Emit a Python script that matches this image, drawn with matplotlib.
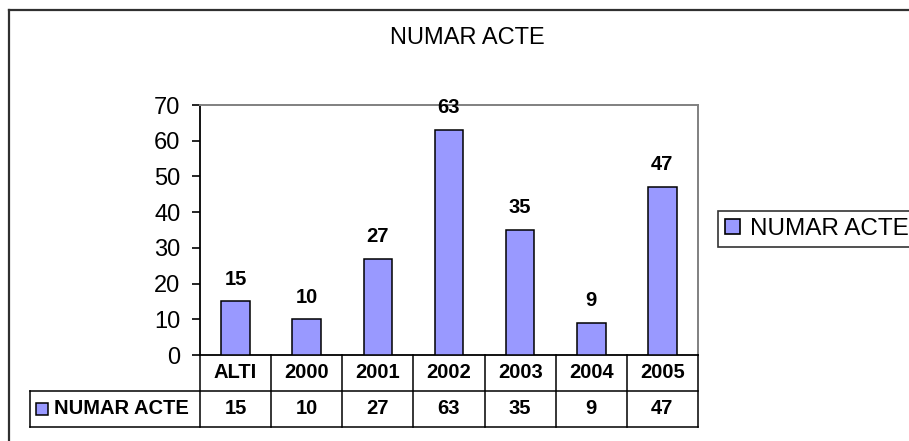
import matplotlib
matplotlib.use("Agg")
import matplotlib.pyplot as plt
from matplotlib.lines import Line2D
from matplotlib.patches import Rectangle

plt.rcParams["font.family"] = ["Liberation Sans", "DejaVu Sans"]

categories = ["ALTI", "2000", "2001", "2002", "2003", "2004", "2005"]
values = [15, 10, 27, 63, 35, 9, 47]
series_name = "NUMAR ACTE"
title = "NUMAR ACTE"
yticks = [0, 10, 20, 30, 40, 50, 60, 70]

BAR = "#9999ff"
W, H = 909, 441

fig = plt.figure(figsize=(W / 100, H / 100), dpi=100)


def fx(px):
    return px / W


def fy(py):
    return 1 - py / H


# outer chart frame (right/bottom edges fall outside the picture)
frame = dict(color="#303030", lw=1.6, transform=fig.transFigure)
fig.add_artist(Line2D([fx(9), fx(9)], [fy(10), 0], **frame))
fig.add_artist(Line2D([fx(9), 1], [fy(10), fy(10)], **frame))

fig.text(fx(467), fy(38), title, ha="center", va="center", fontsize=17)

# plot area
ax = fig.add_axes([fx(200), fy(355), fx(698) - fx(200), fy(105) - fy(355)])
x = list(range(len(categories)))
ax.bar(x, values, width=0.40, color=BAR, edgecolor="black", linewidth=1.1, zorder=3)
for xi, v in zip(x, values):
    ax.annotate(str(v), (xi, v), xytext=(0, 16), textcoords="offset points",
                ha="center", va="center", fontsize=14.5, fontweight="bold")
ax.set_xlim(-0.5, len(categories) - 0.5)
ax.set_ylim(0, 70)
ax.set_yticks(yticks)
ax.tick_params(axis="y", labelsize=17, length=6, width=1.2, pad=8, direction="out")
ax.set_xticks([])
for s in ("top", "right"):
    ax.spines[s].set_color("#808080")
    ax.spines[s].set_linewidth(1.4)
ax.spines["left"].set_linewidth(1.3)
ax.spines["bottom"].set_linewidth(1.3)

leg_handle = Rectangle((0, 0), 1, 1, facecolor=BAR, edgecolor="black", linewidth=1.2)
leg = ax.legend([leg_handle], [series_name], loc="center left",
                bbox_to_anchor=((718 - 200) / 498, (355 - 229) / 250),
                fontsize=17.5, frameon=True, fancybox=False, edgecolor="black",
                handlelength=0.6, handleheight=0.6, handletextpad=0.4,
                borderpad=0.3, borderaxespad=0)
leg.get_frame().set_linewidth(1.2)

# data table under the plot
n = len(categories)
left_ext = 170 / (498 / n)
tx = fig.add_axes([fx(30), fy(427), fx(698) - fx(30), fy(355) - fy(427)])
tx.set_xlim(-0.5 - left_ext, n - 0.5)
tx.set_ylim(0, 2)
tx.axis("off")
lk = dict(color="black", lw=1.1, clip_on=False)
for k in range(n + 1):
    tx.plot([k - 0.5, k - 0.5], [0, 2], **lk)
tx.plot([-0.5 - left_ext] * 2, [0, 1], **lk)
tx.plot([-0.5 - left_ext, n - 0.5], [1, 1], **lk)
tx.plot([-0.5 - left_ext, n - 0.5], [0, 0], **lk)
for xi, c, v in zip(x, categories, values):
    tx.text(xi, 1.5, c, ha="center", va="center", fontsize=14.5, fontweight="bold")
    tx.text(xi, 0.5, str(v), ha="center", va="center", fontsize=14.5, fontweight="bold")
key_w = 12 / (498 / n)
tx.add_patch(Rectangle((-0.5 - left_ext + 6 / (498 / n), 0.5 - 0.17), key_w, 0.34,
                       facecolor=BAR, edgecolor="black", linewidth=1.1))
tx.text(-0.5 - left_ext + 24 / (498 / n), 0.5, series_name, ha="left", va="center",
        fontsize=14.5, fontweight="bold")

fig.savefig("out.png", dpi=100)
